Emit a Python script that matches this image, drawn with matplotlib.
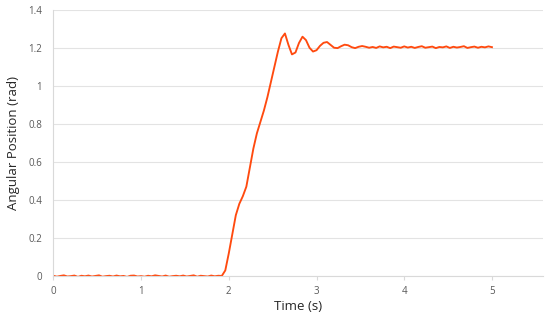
import numpy as np
import matplotlib.pyplot as plt

# angular position samples (rad), one every 0.04 s from t = 0 to t = 5
flat_part = [0.002, -0.003, 0.001, 0.004, -0.002, 0.000, 0.003, -0.004, 0.002, -0.001,
             0.003, -0.002, 0.001, 0.004, -0.003, 0.000, 0.002, -0.002, 0.003, -0.001,
             0.001, -0.004, 0.002, 0.003, -0.002, 0.000, -0.003, 0.002, -0.001, 0.004,
             0.001, -0.002, 0.003, -0.003, 0.000, 0.002, -0.001, 0.003, -0.002, 0.001,
             0.004, -0.003, 0.002, 0.000, -0.002, 0.003, -0.001, 0.002, 0.001]
step_part = [0.03, 0.12, 0.22, 0.32, 0.38, 0.42, 0.47, 0.57, 0.67, 0.75,
             0.81, 0.87, 0.94, 1.02, 1.10, 1.18, 1.25, 1.275, 1.215, 1.165,
             1.175, 1.225, 1.258, 1.24, 1.20, 1.18, 1.187, 1.21, 1.226, 1.23,
             1.215, 1.20, 1.198, 1.208, 1.216, 1.213, 1.203, 1.198, 1.205, 1.209,
             1.205, 1.200]
settled_part = [1.204, 1.199, 1.207, 1.202, 1.205, 1.198, 1.206, 1.203, 1.200, 1.207,
                1.201, 1.205, 1.199, 1.204, 1.208, 1.200, 1.203, 1.206, 1.198, 1.204,
                1.202, 1.207, 1.199, 1.205, 1.201, 1.204, 1.208, 1.199, 1.203, 1.206,
                1.200, 1.205, 1.202, 1.207, 1.203]
angle = np.array(flat_part + step_part + settled_part)
time = np.arange(len(angle)) * 0.04

x_ticks = [0, 1, 2, 3, 4, 5]
y_ticks = [0, 0.2, 0.4, 0.6, 0.8, 1, 1.2, 1.4]
y_labels = ["0", "0.2", "0.4", "0.6", "0.8", "1", "1.2", "1.4"]

plt.rcParams["font.family"] = ["Open Sans", "DejaVu Sans"]

fig = plt.figure(figsize=(5.5, 3.12), dpi=100)
ax = fig.add_axes([0.097, 0.115, 0.89, 0.854])

ax.plot(time, angle, color="#FF4A0F", linewidth=1.35)

ax.set_xlim(0, 5.58)
ax.set_ylim(0, 1.4)
ax.set_xticks(x_ticks)
ax.set_yticks(y_ticks)
ax.set_yticklabels(y_labels)
ax.grid(axis="y", color="#E3E3E3", linewidth=0.8)
ax.set_axisbelow(True)

for side in ["top", "right"]:
    ax.spines[side].set_visible(False)
for side in ["left", "bottom"]:
    ax.spines[side].set_color("#D9D9D9")
    ax.spines[side].set_linewidth(0.8)

ax.tick_params(axis="x", length=3, color="#D9D9D9", labelsize=7, labelcolor="#595959", pad=4)
ax.tick_params(axis="y", length=0, labelsize=7, labelcolor="#595959", pad=8)

ax.set_xlabel("Time (s)", fontsize=9.5, color="#262626", labelpad=2)
ax.set_ylabel("Angular Position (rad)", fontsize=9.5, color="#262626", labelpad=6)

fig.savefig("out.png", dpi=100)
